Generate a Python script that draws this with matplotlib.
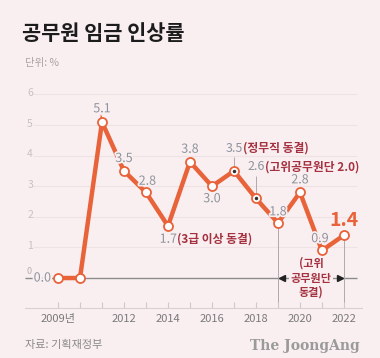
import numpy as np
import matplotlib
matplotlib.use("Agg")
import matplotlib.pyplot as plt
import matplotlib.patheffects as pe

plt.rcParams['font.family'] = ['Noto Sans CJK KR', 'DejaVu Sans']

years = np.arange(2009, 2023)
rates = np.array([0.0, 0.0, 5.1, 3.5, 2.8, 1.7, 3.8, 3.0, 3.5, 2.6, 1.8, 2.8, 0.9, 1.4])
tick_years = [2009, 2012, 2014, 2016, 2018, 2020, 2022]
tick_labels = ["2009년", "2012", "2014", "2016", "2018", "2020", "2022"]
y_ticks = [1, 2, 3, 4, 5, 6]

# label offsets (points) for each year: (dx, dy, ha)
label_pos = {
    2009: (-5, 0, 'right'),
    2011: (0, 9.5, 'center'),
    2012: (0, 9, 'center'),
    2013: (1, 8, 'center'),
    2015: (0, 9, 'center'),
    2016: (0, -9, 'center'),
    2019: (0, 8, 'center'),
    2020: (0, 9, 'center'),
    2021: (-1.5, 8.5, 'center'),
}

bg = '#f9eff0'
orange = '#e8633a'
gray_lbl = '#8e939c'
red_txt = '#a5303f'
halo = [pe.withStroke(linewidth=2.5, foreground=bg)]

fig = plt.figure(figsize=(3.8, 3.58), dpi=100)
fig.patch.set_facecolor(bg)
ax = fig.add_axes([25 / 380, 50 / 358, 337 / 380, 223 / 358])
ax.set_facecolor(bg)
ax.set_xlim(2007.5, 2022.82)
ax.set_ylim(-0.98, 6.31)

for s in ['top', 'right', 'left']:
    ax.spines[s].set_visible(False)
ax.spines['bottom'].set_color('#d9d0d2')
ax.spines['bottom'].set_linewidth(0.8)
ax.set_xticks(years)
ax.set_xticklabels([tick_labels[tick_years.index(y)] if y in tick_years else '' for y in years])
ax.tick_params(axis='x', direction='in', length=4, color='#d0c8ca', width=0.8,
               labelsize=8, labelcolor='#7a7a7a', pad=4)
ax.set_yticks([])

# grid
ax.hlines(y_ticks, 2007.85, 2022.6, color='#efe2e4', lw=0.8, zorder=0)
for v in y_ticks:
    ax.text(2007.6, v + 0.05, str(v), fontsize=7.5, color='#c8c1c3', ha='left', va='center')
ax.text(2007.55, 0.2, "0", fontsize=6.5, color='#b5aeb0', ha='left', va='center')
ax.hlines(0, 2007.5, 2022.6, color='#8c8c8c', lw=1.0, zorder=1)

# vertical guide lines
ax.vlines(2019, -0.98, rates[10], color='#b0a8aa', lw=0.7, zorder=1)
ax.vlines(2022, -0.98, rates[13], color='#b0a8aa', lw=0.7, zorder=1)
ax.vlines(2017, rates[8], 3.95, color='#b0a8aa', lw=0.7, zorder=1)
ax.vlines(2018, rates[9], 3.33, color='#b0a8aa', lw=0.7, zorder=1)
ax.plot([2019.2], [0], marker='<', color='#222222', ms=4, zorder=3)
ax.plot([2021.8], [0], marker='>', color='#222222', ms=4, zorder=3)
ax.text(2020.5, 0, "(고위\n공무원단\n동결)", fontsize=8, color=red_txt, fontweight='bold',
        ha='center', va='center', linespacing=1.15, zorder=4,
        bbox=dict(facecolor=bg, edgecolor='none', pad=1))

# line
ax.plot(years, rates, color=orange, lw=3.2, zorder=5, solid_joinstyle='miter')
ax.plot(years, rates, 'o', ms=6.5, mfc='white', mec=orange, mew=1.3, zorder=6)
ax.plot([2017, 2018], [rates[8], rates[9]], 'o', ms=1.5, color='#333333', zorder=7)

for y, v in zip(years, rates):
    if y in label_pos:
        dx, dy, ha = label_pos[y]
        ax.annotate(f"{v:.1f}", (y, v), xytext=(dx, dy), textcoords='offset points',
                    ha=ha, va='center', fontsize=9, color=gray_lbl, zorder=8,
                    path_effects=halo)

# mixed labels
t = ax.annotate(f"{rates[5]:.1f}", (2014, rates[5]), xytext=(-6, -9.5), textcoords='offset points',
                ha='left', va='center', fontsize=9, color=gray_lbl, zorder=8, path_effects=halo)
ax.annotate("(3급 이상 동결)", xy=(1, 0.5), xycoords=t, ha='left', va='center',
            fontsize=8.5, color=red_txt, fontweight='bold', zorder=8)
t = ax.text(2017, 4.25, f"{rates[8]:.1f}", ha='center', va='center', fontsize=9, color=gray_lbl)
ax.annotate("(정무직 동결)", xy=(1, 0.5), xycoords=t, ha='left', va='center',
            fontsize=8.5, color=red_txt, fontweight='bold')
t = ax.text(2018, 3.63, f"{rates[9]:.1f}", ha='center', va='center', fontsize=9, color=gray_lbl)
ax.annotate("(고위공무원단 2.0)", xy=(1, 0.5), xycoords=t, ha='left', va='center',
            fontsize=8.5, color=red_txt, fontweight='bold')
ax.annotate(f"{rates[13]:.1f}", (2022, rates[13]), xytext=(0, 10.5), textcoords='offset points',
            ha='center', va='center', fontsize=14, color=orange, fontweight='bold', zorder=8)

# titles and footer
fig.text(22 / 380, 1 - 33 / 358, "공무원 임금 인상률", fontsize=15, fontweight='bold',
         color='#1c1c1c', ha='left', va='center')
fig.text(25 / 380, 1 - 63 / 358, "단위: %", fontsize=7.5, color='#a9a3a5', ha='left', va='center')
fig.text(25 / 380, 1 - 345 / 358, "자료: 기획재정부", fontsize=8, color='#8a8a8a', ha='left', va='center')
fig.text(360 / 380, 1 - 346 / 358, "The JoongAng", fontsize=10, color='#9a9a9a',
         family='DejaVu Serif', fontweight='bold', ha='right', va='center')

fig.savefig("out.png", dpi=100, facecolor=bg)
